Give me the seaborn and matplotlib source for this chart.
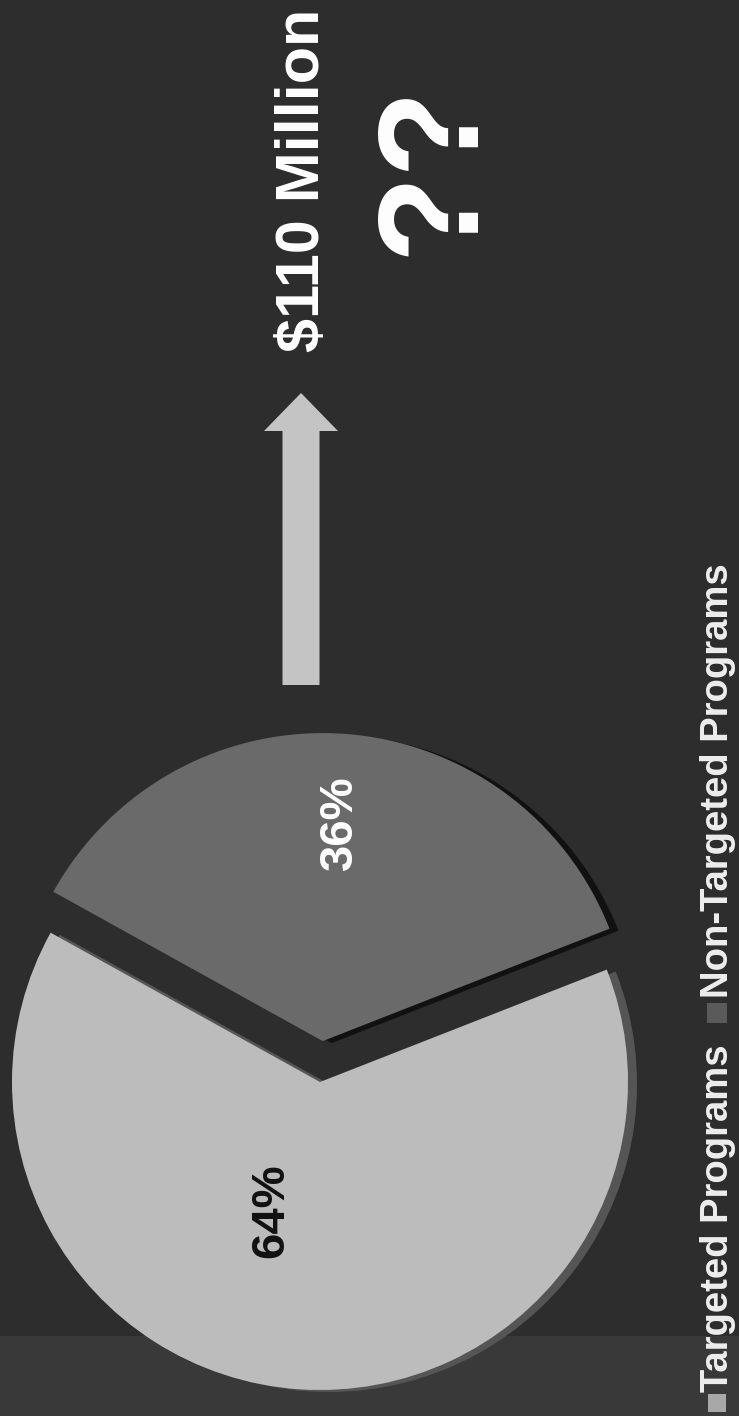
import matplotlib
matplotlib.use("Agg")
import matplotlib.pyplot as plt
from matplotlib.patches import FancyArrow
import seaborn as sns

# ---- data ----
categories = ["Targeted Programs", "Non-Targeted Programs"]
shares = [64, 36]
headline = "$110 Million"
question = "??"

# ---- style ----
BG = "#2d2d2d"
sns.set_theme(style="dark", rc={"axes.facecolor": BG, "figure.facecolor": BG})
plt.rcParams["font.family"] = ["Liberation Sans", "DejaVu Sans"]
palette = sns.color_palette(["#bcbcbc", "#6a6a6a"])
rim_palette = sns.color_palette(["#555555", "#111111"])
marker_palette = sns.color_palette(["#a8a8a8", "#5a5a5a"])

W, H = 739, 1416
fig = plt.figure(figsize=(W / 100, H / 100), dpi=100)
ax = fig.add_axes([0, 0, 1, 1])
ax.set_facecolor(BG)

# lighter floor band at the slide's left edge
ax.axhspan(0, 80, color="#393939", linewidth=0, zorder=0)

center = (320, H - 1082)
radius = 308
explode = [0, 41]

# 3D-ish rim under the pie
ax.pie(shares, explode=explode, startangle=151, colors=rim_palette,
       center=(center[0] + 9, center[1] - 2), radius=radius,
       wedgeprops=dict(linewidth=0))
# main pie
ax.pie(shares, explode=explode, startangle=151, colors=palette,
       center=center, radius=radius, wedgeprops=dict(linewidth=0))

# percentage labels (rotated slide)
ax.text(271, H - 1211, f"{shares[0]}%", rotation=90, ha="center", va="center",
        fontsize=34, fontweight="bold", color="#111111")
ax.text(340, H - 823, f"{shares[1]}%", rotation=90, ha="center", va="center",
        fontsize=34, fontweight="bold", color="white")

# arrow
ax.add_patch(FancyArrow(301, H - 685, 0, 685 - 393, width=37, head_width=74,
                        head_length=38, length_includes_head=True,
                        color="#c4c4c4", linewidth=0))

# headline texts
ax.text(304, H - 180, headline, rotation=90, ha="center", va="center",
        fontsize=44, fontweight="bold", color="white")
ax.text(436, H - 170, question, rotation=90, ha="center", va="center",
        fontsize=102, fontweight="bold", color="white")

# legend (rotated)
ax.scatter([717], [H - 1403], marker="s", s=170, color=marker_palette[0], linewidths=0)
ax.text(718, H - 1392, categories[0], rotation=90, ha="center", va="bottom",
        fontsize=27.5, fontweight="bold", color="#eeeeee")
ax.scatter([717], [H - 1013], marker="s", s=190, color=marker_palette[1], linewidths=0)
ax.text(718, H - 998, categories[1], rotation=90, ha="center", va="bottom",
        fontsize=27.5, fontweight="bold", color="#eeeeee")

ax.set_xlim(0, W)
ax.set_ylim(0, H)
ax.set_aspect("equal")
ax.axis("off")

fig.savefig("out.png", dpi=100, facecolor=BG)
